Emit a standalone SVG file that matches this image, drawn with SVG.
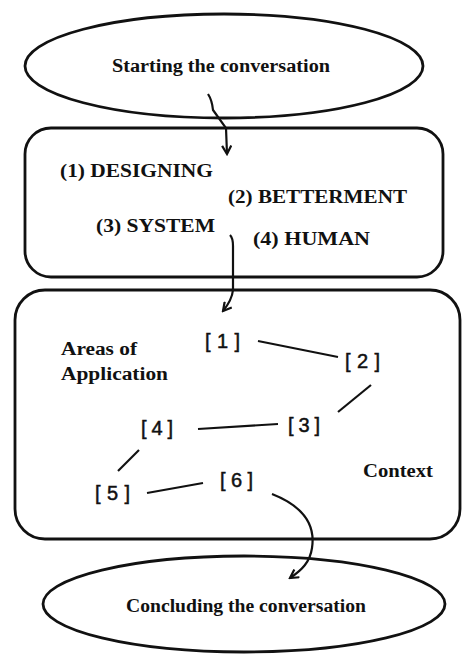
<svg xmlns="http://www.w3.org/2000/svg" width="462" height="655" viewBox="0 0 462 655">
<defs>
<style>
.shape{fill:none;stroke:#111;stroke-width:2.8}
.conn{fill:none;stroke:#111;stroke-width:2.2}
.t{font-family:"Liberation Serif","Times New Roman",serif;font-weight:bold;fill:#111}
.b{font-family:"Liberation Sans",Arial,sans-serif;font-size:20px;fill:#111;stroke:#111;stroke-width:0.5}
</style>
<marker id="ah" viewBox="0 0 12 12" refX="10" refY="6" markerWidth="11" markerHeight="11" orient="auto" markerUnits="userSpaceOnUse">
<path d="M1,1 L10,6 L1,11" fill="none" stroke="#111" stroke-width="2.4"/>
</marker>
</defs>
<rect width="462" height="655" fill="#fff"/>
<g id="start">
<ellipse class="shape" cx="224" cy="66" rx="199" ry="52"/>
<text class="t" x="221" y="72" font-size="18" text-anchor="middle" textLength="218" lengthAdjust="spacingAndGlyphs">Starting the conversation</text>
</g>
<g id="principles">
<rect class="shape" x="25" y="128" width="418" height="149" rx="26"/>
<text class="t" x="60" y="177" font-size="19" textLength="153" lengthAdjust="spacingAndGlyphs">(1) DESIGNING</text>
<text class="t" x="228" y="203" font-size="19" textLength="179" lengthAdjust="spacingAndGlyphs">(2) BETTERMENT</text>
<text class="t" x="96" y="232" font-size="19" textLength="119" lengthAdjust="spacingAndGlyphs">(3) SYSTEM</text>
<text class="t" x="253" y="245" font-size="19" textLength="117" lengthAdjust="spacingAndGlyphs">(4) HUMAN</text>
</g>
<g id="areas">
<rect class="shape" x="15" y="290" width="445" height="249" rx="30"/>
<text class="t" x="61" y="355" font-size="18" textLength="76" lengthAdjust="spacingAndGlyphs">Areas of</text>
<text class="t" x="61" y="380" font-size="18" textLength="107" lengthAdjust="spacingAndGlyphs">Application</text>
<text class="t" x="363" y="477" font-size="18" textLength="70" lengthAdjust="spacingAndGlyphs">Context</text>
</g>
<g id="n1"><text class="b" x="205" y="348" textLength="35" lengthAdjust="spacing">[1]</text></g>
<g id="n2"><text class="b" x="345" y="368" textLength="35" lengthAdjust="spacing">[2]</text></g>
<g id="n3"><text class="b" x="288" y="432" textLength="32" lengthAdjust="spacing">[3]</text></g>
<g id="n4"><text class="b" x="141" y="435" textLength="32" lengthAdjust="spacing">[4]</text></g>
<g id="n5"><text class="b" x="95" y="500" textLength="35" lengthAdjust="spacing">[5]</text></g>
<g id="n6"><text class="b" x="220" y="487" textLength="33" lengthAdjust="spacing">[6]</text></g>
<g id="end">
<ellipse class="shape" cx="244" cy="604" rx="201" ry="48"/>
<text class="t" x="246" y="612" font-size="18" text-anchor="middle" textLength="240" lengthAdjust="spacingAndGlyphs">Concluding the conversation</text>
</g>
<g id="connectors">
<path class="conn" d="M208 94 Q212 100 213 110 L226 128 L227 154" marker-end="url(#ah)"/>
<path class="conn" d="M230 235 Q233 238 233 246 L233 290 Q232 300 223 311" marker-end="url(#ah)"/>
<path class="conn" d="M272 494 C300 505 316 522 312 548 C310 562 302 570 290 578" marker-end="url(#ah)"/>
<line class="conn" x1="258" y1="341" x2="338" y2="357"/>
<line class="conn" x1="371" y1="385" x2="338" y2="412"/>
<line class="conn" x1="198" y1="429" x2="278" y2="424"/>
<line class="conn" x1="139" y1="450" x2="118" y2="471"/>
<line class="conn" x1="147" y1="493" x2="203" y2="483"/>
</g>
</svg>
